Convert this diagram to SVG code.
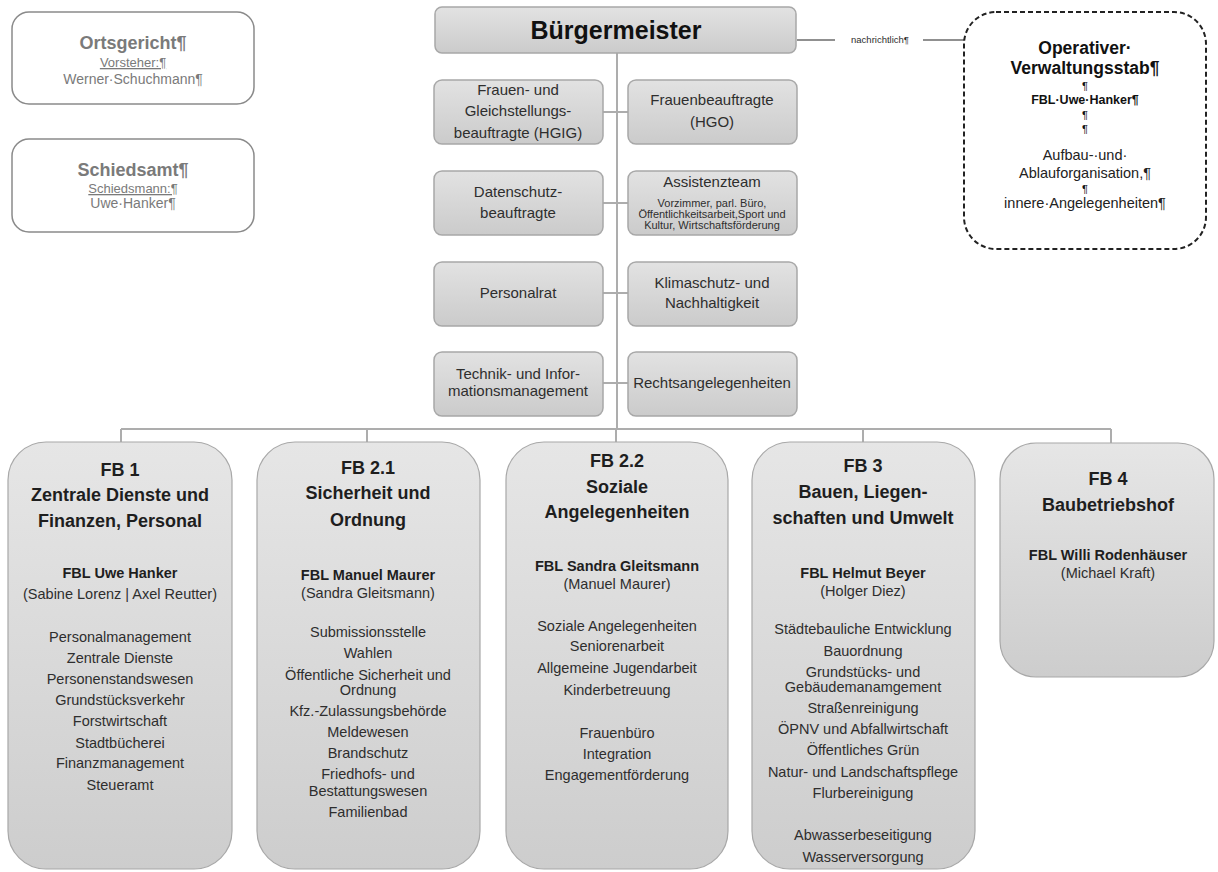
<svg xmlns="http://www.w3.org/2000/svg" width="1218" height="872" viewBox="0 0 1218 872">
<defs>
<linearGradient id="g" x1="0" y1="0" x2="0" y2="1">
<stop offset="0" stop-color="#e6e6e6"/>
<stop offset="1" stop-color="#cdcdcd"/>
</linearGradient>
<linearGradient id="gs" x1="0" y1="0" x2="0" y2="1">
<stop offset="0" stop-color="#e2e2e2"/>
<stop offset="1" stop-color="#cbcbcb"/>
</linearGradient>
</defs>
<style>
text{font-family:"Liberation Sans",Arial,sans-serif;text-anchor:middle;fill:#2e2e2e}
.side{fill:#fff;stroke:#8a8a8a;stroke-width:1.5}
.sidet{fill:#7a7a7a}
.staff{fill:url(#gs);stroke:#a8a8a8;stroke-width:1.5}
.fb{fill:url(#g);stroke:#a8a8a8;stroke-width:1.2}
.st{font-size:15px}
.sm{font-size:11px}
.h{font-size:18px;font-weight:bold;fill:#1e1e1e}
.b{font-size:14.5px;font-weight:bold;fill:#1e1e1e}
.i{font-size:14.5px}
.p{font-size:11px;fill:#111}
.con{fill:none;stroke:#adadad;stroke-width:2}
</style>
<rect width="1218" height="872" fill="#fff"/>

<g id="connectors">
<path class="con" d="M617 53V429M603 112H628M603 203H628M603 293H628M603 383H628"/>
<path class="con" d="M121 429H1111M121 429V442M367 429V442M616 429V442M863 429V442M1111 429V443"/>
<path fill="none" stroke="#222" stroke-width="1.2" d="M797 40H835M923 40H965"/>
<text x="880" y="43" style="font-size:9.5px">nachrichtlich¶</text>
</g>

<g id="ortsgericht">
<rect class="side" x="12" y="12" width="242" height="92" rx="17"/>
<text class="sidet" x="133" y="49" style="font-size:18px;font-weight:bold">Ortsgericht¶</text>
<text class="sidet" x="133" y="67" style="font-size:13px;text-decoration:underline">Vorsteher:¶</text>
<text class="sidet" x="133" y="84" style="font-size:14px">Werner·Schuchmann¶</text>
</g>

<g id="schiedsamt">
<rect class="side" x="12" y="139" width="242" height="93" rx="17"/>
<text class="sidet" x="133" y="176" style="font-size:18px;font-weight:bold">Schiedsamt¶</text>
<text class="sidet" x="133" y="193" style="font-size:13px;text-decoration:underline">Schiedsmann:¶</text>
<text class="sidet" x="133" y="208" style="font-size:14px">Uwe·Hanker¶</text>
</g>

<g id="buergermeister">
<rect class="staff" x="435" y="7" width="361" height="46" rx="7"/>
<text x="616" y="39" style="font-size:25px;font-weight:bold;fill:#111">Bürgermeister</text>
</g>

<g id="stab">
<rect x="964" y="12" width="242" height="237" rx="32" fill="#fff" stroke="#222" stroke-width="2" stroke-dasharray="5 3"/>
<text x="1085" y="54" style="font-size:17.5px;font-weight:bold;fill:#111">Operativer·</text>
<text x="1085" y="74" style="font-size:17.5px;font-weight:bold;fill:#111">Verwaltungsstab¶</text>
<text class="p" x="1085" y="90">¶</text>
<text x="1085" y="104" style="font-size:12.5px;font-weight:bold;fill:#111">FBL·Uwe·Hanker¶</text>
<text class="p" x="1085" y="119">¶</text>
<text class="p" x="1085" y="133">¶</text>
<text x="1085" y="160" style="font-size:14.5px;fill:#222">Aufbau-·und·</text>
<text x="1085" y="178" style="font-size:14.5px;fill:#222">Ablauforganisation,¶</text>
<text class="p" x="1085" y="193">¶</text>
<text x="1085" y="208" style="font-size:14.5px;fill:#222">innere·Angelegenheiten¶</text>
</g>

<g id="frauen-gleich">
<rect class="staff" x="434" y="80" width="169" height="64" rx="8"/>
<text class="st" x="518" y="95">Frauen- und</text>
<text class="st" x="518" y="116">Gleichstellungs-</text>
<text class="st" x="518" y="138">beauftragte (HGIG)</text>
</g>
<g id="frauenbeauftragte">
<rect class="staff" x="628" y="80" width="169" height="64" rx="8"/>
<text class="st" x="712" y="105">Frauenbeauftragte</text>
<text class="st" x="712" y="127">(HGO)</text>
</g>
<g id="datenschutz">
<rect class="staff" x="434" y="171" width="169" height="64" rx="8"/>
<text class="st" x="518" y="197">Datenschutz-</text>
<text class="st" x="518" y="218">beauftragte</text>
</g>
<g id="assistenzteam">
<rect class="staff" x="628" y="171" width="169" height="64" rx="8"/>
<text class="st" x="712" y="187">Assistenzteam</text>
<text class="sm" x="712" y="207">Vorzimmer, parl. Büro,</text>
<text class="sm" x="712" y="218">Öffentlichkeitsarbeit,Sport und</text>
<text class="sm" x="712" y="229">Kultur, Wirtschaftsförderung</text>
</g>
<g id="personalrat">
<rect class="staff" x="434" y="262" width="169" height="64" rx="8"/>
<text class="st" x="518" y="298">Personalrat</text>
</g>
<g id="klimaschutz">
<rect class="staff" x="628" y="262" width="169" height="64" rx="8"/>
<text class="st" x="712" y="288">Klimaschutz- und</text>
<text class="st" x="712" y="308">Nachhaltigkeit</text>
</g>
<g id="technik">
<rect class="staff" x="434" y="352" width="169" height="64" rx="8"/>
<text class="st" x="518" y="379">Technik- und Infor-</text>
<text class="st" x="518" y="396">mationsmanagement</text>
</g>
<g id="recht">
<rect class="staff" x="628" y="352" width="169" height="64" rx="8"/>
<text class="st" x="712" y="388">Rechtsangelegenheiten</text>
</g>

<g id="fb1">
<rect class="fb" x="8" y="442" width="224" height="427" rx="38"/>
<text class="h" x="120" y="476">FB 1</text>
<text class="h" x="120" y="501">Zentrale Dienste und</text>
<text class="h" x="120" y="527">Finanzen, Personal</text>
<text class="b" x="120" y="578">FBL Uwe Hanker</text>
<text class="i" x="120" y="599">(Sabine Lorenz | Axel Reutter)</text>
<text class="i" x="120" y="642">Personalmanagement</text>
<text class="i" x="120" y="663">Zentrale Dienste</text>
<text class="i" x="120" y="684">Personenstandswesen</text>
<text class="i" x="120" y="705">Grundstücksverkehr</text>
<text class="i" x="120" y="726">Forstwirtschaft</text>
<text class="i" x="120" y="748">Stadtbücherei</text>
<text class="i" x="120" y="768">Finanzmanagement</text>
<text class="i" x="120" y="790">Steueramt</text>
</g>

<g id="fb21">
<rect class="fb" x="257" y="442" width="223" height="427" rx="38"/>
<text class="h" x="368" y="474">FB 2.1</text>
<text class="h" x="368" y="499">Sicherheit und</text>
<text class="h" x="368" y="526">Ordnung</text>
<text class="b" x="368" y="580">FBL Manuel Maurer</text>
<text class="i" x="368" y="598">(Sandra Gleitsmann)</text>
<text class="i" x="368" y="637">Submissionsstelle</text>
<text class="i" x="368" y="658">Wahlen</text>
<text class="i" x="368" y="680">Öffentliche Sicherheit und</text>
<text class="i" x="368" y="695">Ordnung</text>
<text class="i" x="368" y="716">Kfz.-Zulassungsbehörde</text>
<text class="i" x="368" y="737">Meldewesen</text>
<text class="i" x="368" y="758">Brandschutz</text>
<text class="i" x="368" y="779">Friedhofs- und</text>
<text class="i" x="368" y="796">Bestattungswesen</text>
<text class="i" x="368" y="817">Familienbad</text>
</g>

<g id="fb22">
<rect class="fb" x="506" y="442" width="222" height="427" rx="38"/>
<text class="h" x="617" y="467">FB 2.2</text>
<text class="h" x="617" y="493">Soziale</text>
<text class="h" x="617" y="518">Angelegenheiten</text>
<text class="b" x="617" y="571">FBL Sandra Gleitsmann</text>
<text class="i" x="617" y="589">(Manuel Maurer)</text>
<text class="i" x="617" y="631">Soziale Angelegenheiten</text>
<text class="i" x="617" y="651">Seniorenarbeit</text>
<text class="i" x="617" y="673">Allgemeine Jugendarbeit</text>
<text class="i" x="617" y="695">Kinderbetreuung</text>
<text class="i" x="617" y="738">Frauenbüro</text>
<text class="i" x="617" y="759">Integration</text>
<text class="i" x="617" y="780">Engagementförderung</text>
</g>

<g id="fb3">
<rect class="fb" x="752" y="442" width="223" height="427" rx="38"/>
<text class="h" x="863" y="472">FB 3</text>
<text class="h" x="863" y="498">Bauen, Liegen-</text>
<text class="h" x="863" y="524">schaften und  Umwelt</text>
<text class="b" x="863" y="578">FBL Helmut Beyer</text>
<text class="i" x="863" y="596">(Holger Diez)</text>
<text class="i" x="863" y="634">Städtebauliche Entwicklung</text>
<text class="i" x="863" y="656">Bauordnung</text>
<text class="i" x="863" y="677">Grundstücks- und</text>
<text class="i" x="863" y="692">Gebäudemanamgement</text>
<text class="i" x="863" y="713">Straßenreinigung</text>
<text class="i" x="863" y="734">ÖPNV und Abfallwirtschaft</text>
<text class="i" x="863" y="755">Öffentliches Grün</text>
<text class="i" x="863" y="777">Natur- und Landschaftspflege</text>
<text class="i" x="863" y="798">Flurbereinigung</text>
<text class="i" x="863" y="840">Abwasserbeseitigung</text>
<text class="i" x="863" y="862">Wasserversorgung</text>
</g>

<g id="fb4">
<rect class="fb" x="1000" y="443" width="214" height="234" rx="36"/>
<text class="h" x="1108" y="485">FB 4</text>
<text class="h" x="1108" y="511">Baubetriebshof</text>
<text class="b" x="1108" y="560">FBL Willi Rodenhäuser</text>
<text class="i" x="1108" y="578">(Michael Kraft)</text>
</g>
</svg>
